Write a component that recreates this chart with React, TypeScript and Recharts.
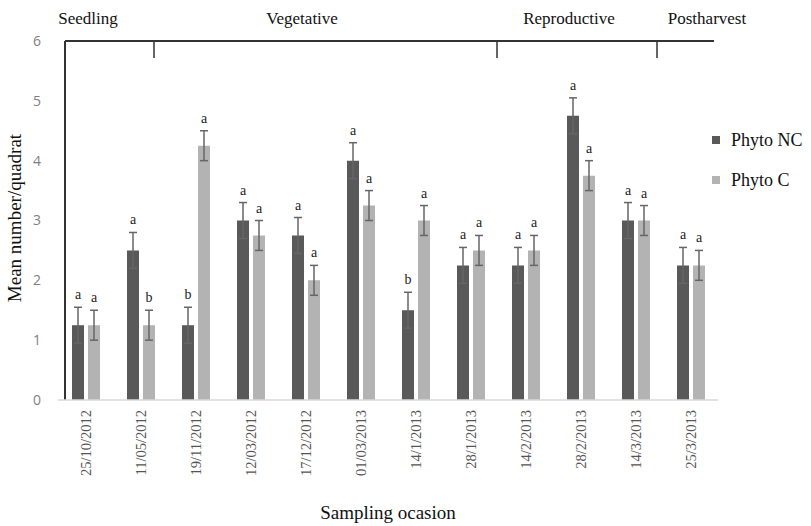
import {
  BarChart,
  Bar,
  XAxis,
  YAxis,
  ErrorBar,
  LabelList,
  Customized,
} from "recharts";

const dates = [
  "25/10/2012",
  "11/05/2012",
  "19/11/2012",
  "12/03/2012",
  "17/12/2012",
  "01/03/2013",
  "14/1/2013",
  "28/1/2013",
  "14/2/2013",
  "28/2/2013",
  "14/3/2013",
  "25/3/2013",
];

const phytoNC = [1.25, 2.5, 1.25, 3.0, 2.75, 4.0, 1.5, 2.25, 2.25, 4.75, 3.0, 2.25];
const phytoC = [1.25, 1.25, 4.25, 2.75, 2.0, 3.25, 3.0, 2.5, 2.5, 3.75, 3.0, 2.25];

const errNC = [0.3, 0.3, 0.3, 0.3, 0.3, 0.3, 0.3, 0.3, 0.3, 0.3, 0.3, 0.3];
const errC = [0.25, 0.25, 0.25, 0.25, 0.25, 0.25, 0.25, 0.25, 0.25, 0.25, 0.25, 0.25];

const sigNC = ["a", "a", "b", "a", "a", "a", "b", "a", "a", "a", "a", "a"];
const sigC = ["a", "b", "a", "a", "a", "a", "a", "a", "a", "a", "a", "a"];

const yTicks = [0, 1, 2, 3, 4, 5, 6];

const stages = ["Seedling", "Vegetative", "Reproductive", "Postharvest"];

const series = [
  { key: "nc", name: "Phyto NC", color: "#595959" },
  { key: "c", name: "Phyto C", color: "#b3b3b3" },
];

const data = dates.map((d, i) => ({
  date: d,
  nc: phytoNC[i],
  c: phytoC[i],
  ncErr: errNC[i],
  cErr: errC[i],
  ncSig: sigNC[i],
  cSig: sigC[i],
}));

const SERIF = "Liberation Serif";
const serifStyle = { fontFamily: SERIF };

// stage bracket drawn across the top of the plot
const stageLabelX = [88, 302, 569, 707];
const stageTickX = [154, 497, 657];

function Overlay() {
  return (
    <g>
      <line x1={65} y1={41} x2={65} y2={400} stroke="#333" strokeWidth={2} />
      <line x1={65} y1={41} x2={714} y2={41} stroke="#333" strokeWidth={2} />
      {stageTickX.map((x) => (
        <line key={x} x1={x} y1={41} x2={x} y2={58} stroke="#333" strokeWidth={1.5} />
      ))}
      {stages.map((s, i) => (
        <text
          key={s}
          x={stageLabelX[i]}
          y={24}
          textAnchor="middle"
          style={serifStyle}
          fontSize={17}
          fill="#111"
        >
          {s}
        </text>
      ))}
      <text
        x={21}
        y={218}
        transform="rotate(-90, 21, 218)"
        textAnchor="middle"
        style={serifStyle}
        fontSize={19}
        fill="#111"
      >
        Mean number/quadrat
      </text>
      <text x={388} y={519} textAnchor="middle" style={serifStyle} fontSize={19} fill="#111">
        Sampling ocasion
      </text>
    </g>
  );
}

function DateTick(props: any) {
  const { x, payload } = props;
  const tx = x + 5;
  const ty = 410;
  return (
    <text
      x={tx}
      y={ty}
      transform={`rotate(-90, ${tx}, ${ty})`}
      textAnchor="end"
      style={serifStyle}
      fontSize={14.5}
      fill="#555"
    >
      {payload.value}
    </text>
  );
}

function sigLabel(values: number[], errs: number[]) {
  return (props: any) => {
    const { x, y, width, height, value, index } = props;
    const perUnit = height / values[index];
    const top = y - errs[index] * perUnit;
    return (
      <text
        x={x + width / 2}
        y={top - 8}
        textAnchor="middle"
        style={serifStyle}
        fontSize={14}
        fill="#222"
      >
        {value}
      </text>
    );
  };
}

function LegendBox() {
  return (
    <div style={{ position: "absolute", left: 712, top: 120, fontFamily: SERIF }}>
      {series.map((s) => (
        <div
          key={s.key}
          style={{ display: "flex", alignItems: "center", height: 40, whiteSpace: "nowrap" }}
        >
          <span
            style={{ width: 8, height: 8, background: s.color, display: "inline-block", marginRight: 11 }}
          />
          <span style={{ fontSize: 18, color: "#111" }}>{s.name}</span>
        </div>
      ))}
    </div>
  );
}

export default function App() {
  return (
    <div
      style={{
        position: "absolute",
        left: 0,
        top: 0,
        width: 811,
        height: 526,
        background: "#fff",
        overflow: "hidden",
      }}
    >
      <BarChart
        width={811}
        height={526}
        data={data}
        margin={{ top: 41, right: 93, bottom: 8, left: 8 }}
        barSize={12}
        barGap={4}
      >
        <XAxis
          dataKey="date"
          height={118}
          interval={0}
          tickLine={false}
          axisLine={{ stroke: "#d9d9d9", strokeWidth: 1.5 }}
          tick={<DateTick />}
        />
        <YAxis
          width={50}
          domain={[0, 6]}
          ticks={yTicks}
          axisLine={false}
          tickLine={false}
          tickMargin={11}
          tick={{ fill: "#808080", fontSize: 14, fontFamily: "Open Sans" }}
        />
        {series.map((s, si) => (
          <Bar
            key={s.key}
            dataKey={s.key}
            name={s.name}
            fill={s.color}
            isAnimationActive={false}
          >
            <ErrorBar
              dataKey={s.key + "Err"}
              width={4}
              stroke="#666"
              strokeWidth={1.5}
              direction="y"
            />
            <LabelList
              dataKey={s.key + "Sig"}
              content={si === 0 ? sigLabel(phytoNC, errNC) : sigLabel(phytoC, errC)}
            />
          </Bar>
        ))}
        <Customized component={<Overlay />} />
      </BarChart>
      <LegendBox />
    </div>
  );
}
